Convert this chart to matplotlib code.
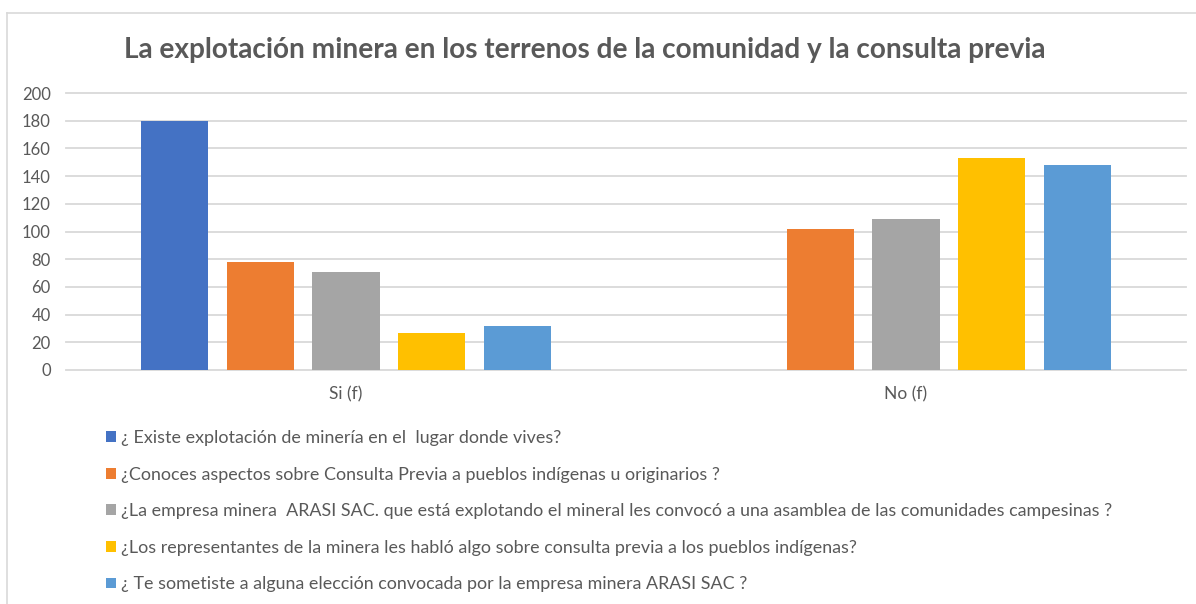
import matplotlib
matplotlib.use("Agg")
import matplotlib.pyplot as plt
from matplotlib.lines import Line2D
import numpy as np

categories = ["Si (f)", "No (f)"]
series_labels = [
    "¿ Existe explotación de minería en el  lugar donde vives?",
    "¿Conoces aspectos sobre Consulta Previa a pueblos indígenas u originarios ?",
    "¿La empresa minera  ARASI SAC. que está explotando el mineral les convocó a una asamblea de las comunidades campesinas ?",
    "¿Los representantes de la minera les habló algo sobre consulta previa a los pueblos indígenas?",
    "¿ Te sometiste a alguna elección convocada por la empresa minera ARASI SAC ?",
]
s1 = [180, 0]
s2 = [78, 102]
s3 = [71, 109]
s4 = [27, 153]
s5 = [32, 148]
series_values = [s1, s2, s3, s4, s5]
colors = ["#4472C4", "#ED7D31", "#A5A5A5", "#FFC000", "#5B9BD5"]
yticks = [0, 20, 40, 60, 80, 100, 120, 140, 160, 180, 200]
title = "La explotación minera en los terrenos de la comunidad y la consulta previa"

W, H = 1196, 604
fig = plt.figure(figsize=(W / 100, H / 100), dpi=100)
txt = "#595959"
font = "Lato"

ax = fig.add_axes([66 / W, (H - 370) / H, 1120 / W, 277 / H])
x = np.arange(len(categories))
stride = 0.153
width = 0.12
handles = []
for i, (vals, c, lab) in enumerate(zip(series_values, colors, series_labels)):
    b = ax.bar(x + (i - 2) * stride, vals, width, color=c, label=lab, zorder=3)
    handles.append(b)

ax.set_xlim(-0.5, 1.5)
ax.set_ylim(0, 200)
ax.set_yticks(yticks)
ax.set_xticks(x)
ax.set_xticklabels(categories)
ax.grid(axis="y", color="#d9d9d9", linewidth=1.3, zorder=0)
for gl in ax.get_ygridlines():
    gl.set_clip_on(False)
for s in ax.spines.values():
    s.set_visible(False)
ax.tick_params(axis="y", length=0, pad=11, labelsize=12, labelcolor=txt)
ax.tick_params(axis="x", length=0, pad=12, labelsize=12.5, labelcolor=txt)
for lbl in ax.get_xticklabels() + ax.get_yticklabels():
    lbl.set_fontfamily(font)

fig.text(585 / W, 1 - 50 / H, title, ha="center", va="center",
         fontsize=20.2, fontweight="bold", color=txt, family=font)

leg = fig.legend(handles=handles, labels=series_labels, loc="upper left",
                 bbox_to_anchor=(106 / W, 1 - 430 / H), frameon=False,
                 borderpad=0, borderaxespad=0, handlelength=0.55, handleheight=0.55,
                 handletextpad=0.3, labelspacing=1.15,
                 prop={"family": font, "size": 12.9})
for t in leg.get_texts():
    t.set_color(txt)

# chart frame
fig.add_artist(Line2D([7 / W, 7 / W], [0, 1 - 13 / H], transform=fig.transFigure,
                      color="#d9d9d9", linewidth=1.2))
fig.add_artist(Line2D([7 / W, 1], [1 - 13 / H, 1 - 13 / H], transform=fig.transFigure,
                      color="#d9d9d9", linewidth=1.2))

fig.savefig("out.png", dpi=100, facecolor="white")
